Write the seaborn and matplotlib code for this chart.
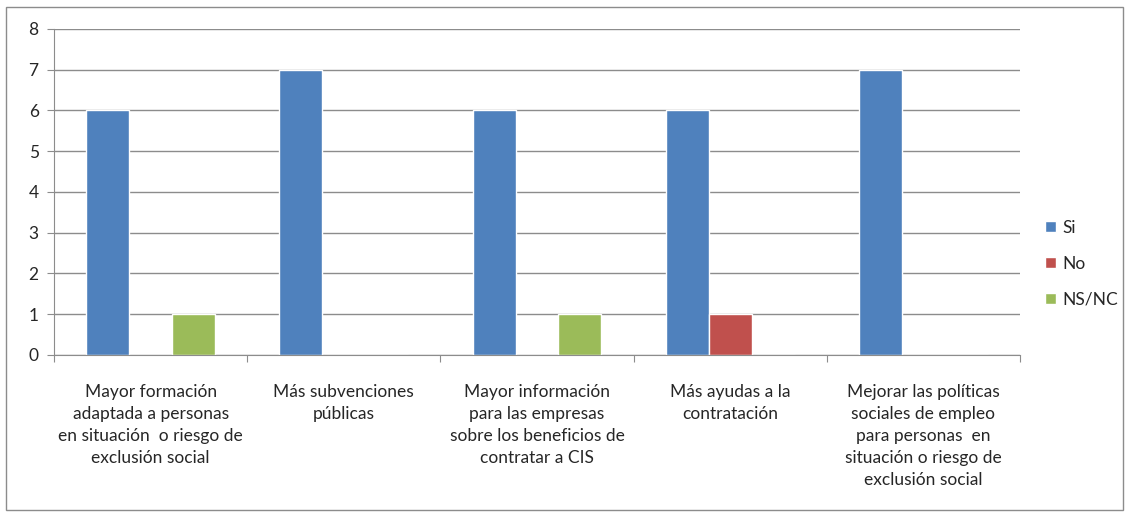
import numpy as np
import pandas as pd
import seaborn as sns
import matplotlib.pyplot as plt
from matplotlib.patches import Rectangle

sns.set_style('white')
plt.rcParams['font.family'] = ['Lato', 'DejaVu Sans']

categorias = ['Mayor formación\nadaptada a personas\nen situación  o riesgo de\nexclusión social',
              'Más subvenciones\npúblicas',
              'Mayor información\npara las empresas\nsobre los beneficios de\ncontratar a CIS',
              'Más ayudas a la\ncontratación',
              'Mejorar las políticas\nsociales de empleo\npara personas  en\nsituación o riesgo de\nexclusión social']
series = ['Si', 'No', 'NS/NC']
si = [6, 7, 6, 6, 7]
no = [0, 0, 0, 1, 0]
nsnc = [1, 0, 1, 0, 0]
colores = ['#4F81BD', '#C0504D', '#9BBB59']

df = pd.DataFrame({'cat': categorias * 3,
                   'serie': [s for s in series for _ in categorias],
                   'valor': si + no + nsnc})

fig = plt.figure(figsize=(11.29, 5.13), dpi=100)
ax = fig.add_axes([0.0478, 0.308, 0.8557, 0.6355])

sns.barplot(data=df, x='cat', y='valor', hue='serie', palette=colores,
            width=0.667, saturation=1, ax=ax, legend=True)

ax.set_ylim(0, 8)
ax.set_xlim(-0.5, 4.5)
ax.set_yticks(range(0, 9))
ax.yaxis.grid(True, color='#8c8c8c', linewidth=1)
ax.set_axisbelow(True)
for s in ['top', 'right']:
    ax.spines[s].set_visible(False)
for s in ['left', 'bottom']:
    ax.spines[s].set_color('#8c8c8c')
ax.set_xlabel('')
ax.set_ylabel('')

# ticks entre categorias
ax.set_xticks(np.arange(-0.5, 5, 1), minor=False)
ax.set_xticklabels([])
ax.tick_params(axis='x', which='major', length=5, color='#8c8c8c', direction='out', bottom=True)
ax.tick_params(axis='y', length=5, color='#8c8c8c', direction='out', left=True, labelsize=12.5, pad=6)
ax.set_xticks(range(5), minor=True)
ax.set_xticklabels(categorias, minor=True, fontsize=12.5, linespacing=1.45)
ax.tick_params(axis='x', which='minor', length=0, pad=21)

ax.legend(loc='center left', bbox_to_anchor=(1.01, 0.28), frameon=False,
          fontsize=12.5, handlelength=0.6, handleheight=0.6, labelspacing=1.15,
          handletextpad=0.4)

fig.patches.append(Rectangle((0.005, 0.005), 0.99, 0.982, transform=fig.transFigure,
                             fill=False, edgecolor='#8c8c8c', linewidth=1))

fig.savefig('out.png', dpi=100)
